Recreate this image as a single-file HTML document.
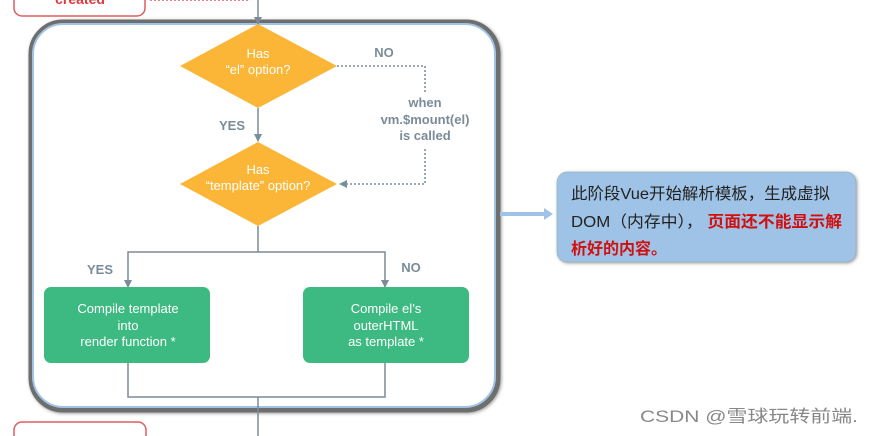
<!DOCTYPE html>
<html><head><meta charset="utf-8"><style>
html,body{margin:0;padding:0;background:#fff;width:872px;height:436px;overflow:hidden}
svg text{font-family:"Liberation Sans","Noto Sans CJK SC",sans-serif}
</style></head><body>
<svg width="872" height="436" viewBox="0 0 872 436" xmlns="http://www.w3.org/2000/svg">
<defs>
<marker id="a" markerWidth="8" markerHeight="8" refX="7" refY="4" orient="auto" markerUnits="userSpaceOnUse"><path d="M0,0 L8,4 L0,8 z" fill="#7a8c99"/></marker>
<filter id="sh" x="-10%" y="-10%" width="120%" height="120%"><feDropShadow dx="1" dy="1" stdDeviation="1.5" flood-color="#555" flood-opacity="0.6"/></filter>
</defs>
<rect x="14" y="-12" width="131" height="28" rx="8" fill="#fff" stroke="#e05a60" stroke-width="1.5"/>
<text x="80" y="4" font-size="14" font-weight="bold" fill="#e0373c" text-anchor="middle">created</text>
<line x1="150" y1="0" x2="250" y2="0" stroke="#e05a60" stroke-width="1.5" stroke-dasharray="2,2"/>
<rect x="31" y="22" width="467" height="388" rx="32" fill="#fff" stroke="#6e6e6e" stroke-width="5" filter="url(#sh)"/>
<rect x="33" y="24" width="462" height="383" rx="30" fill="#fff" stroke="#9fc3e6" stroke-width="2"/>
<line x1="258" y1="0" x2="258" y2="24" stroke="#7a8c99" stroke-width="1.5" marker-end="url(#a)"/>
<polygon points="180,66 258,24 337,66 258,108" fill="#fbb637"/>
<text x="258" y="58" font-size="13" fill="#fff" text-anchor="middle">Has</text>
<text x="258" y="74" font-size="13" fill="#fff" text-anchor="middle">“el” option?</text>
<line x1="258" y1="108" x2="258" y2="141" stroke="#7a8c99" stroke-width="1.5" marker-end="url(#a)"/>
<text x="232" y="130" font-size="13" font-weight="bold" fill="#7a8c99" text-anchor="middle">YES</text>
<text x="384" y="57" font-size="13" font-weight="bold" fill="#7a8c99" text-anchor="middle">NO</text>
<path d="M337,66 H425 V92" fill="none" stroke="#7a8c99" stroke-width="1.5" stroke-dasharray="2,2"/>
<text x="425" y="107" font-size="13" font-weight="bold" fill="#7a8c99" text-anchor="middle">when</text>
<text x="425" y="124" font-size="13" font-weight="bold" fill="#7a8c99" text-anchor="middle">vm.$mount(el)</text>
<text x="425" y="140" font-size="13" font-weight="bold" fill="#7a8c99" text-anchor="middle">is called</text>
<path d="M425,149 V184 H340" fill="none" stroke="#7a8c99" stroke-width="1.5" stroke-dasharray="2,2" marker-end="url(#a)"/>
<polygon points="180,184 258,142 337,184 258,226" fill="#fbb637"/>
<text x="258" y="174" font-size="13" fill="#fff" text-anchor="middle">Has</text>
<text x="258" y="190" font-size="13" fill="#fff" text-anchor="middle">“template” option?</text>
<path d="M258,226 V252 H128 V287" fill="none" stroke="#7a8c99" stroke-width="1.5" marker-end="url(#a)"/>
<path d="M258,252 H385 V287" fill="none" stroke="#7a8c99" stroke-width="1.5" marker-end="url(#a)"/>
<text x="100" y="274" font-size="13" font-weight="bold" fill="#7a8c99" text-anchor="middle">YES</text>
<text x="411" y="272" font-size="13" font-weight="bold" fill="#7a8c99" text-anchor="middle">NO</text>
<rect x="44" y="287" width="166" height="76" rx="7" fill="#3cba82"/>
<text x="128" y="313" font-size="13" fill="#fff" text-anchor="middle">Compile template</text>
<text x="128" y="330" font-size="13" fill="#fff" text-anchor="middle">into</text>
<text x="128" y="346" font-size="13" fill="#fff" text-anchor="middle">render function *</text>
<rect x="303" y="287" width="166" height="76" rx="7" fill="#3cba82"/>
<text x="386" y="313" font-size="13" fill="#fff" text-anchor="middle">Compile el’s</text>
<text x="386" y="330" font-size="13" fill="#fff" text-anchor="middle">outerHTML</text>
<text x="386" y="346" font-size="13" fill="#fff" text-anchor="middle">as template *</text>
<path d="M128,363 V397 H385 V363" fill="none" stroke="#7a8c99" stroke-width="1.5"/>
<line x1="258" y1="397" x2="258" y2="436" stroke="#7a8c99" stroke-width="1.5"/>
<rect x="14" y="422" width="132" height="30" rx="8" fill="#fff" stroke="#e05a60" stroke-width="1.5"/>
<line x1="500" y1="214" x2="546" y2="214" stroke="#9fc3e6" stroke-width="4"/>
<polygon points="544,208 553,214 544,220" fill="#9fc3e6"/>
<rect x="557" y="172" width="299" height="90" rx="10" fill="#9fc3e6" stroke="#8aa" stroke-width="0.5" filter="url(#sh)"/>
<text x="571" y="199" font-size="16" fill="#222" textLength="259" lengthAdjust="spacingAndGlyphs">此阶段Vue开始解析模板，生成虚拟</text>
<text x="571" y="227" font-size="16" fill="#222" textLength="271" lengthAdjust="spacingAndGlyphs">DOM（内存中）， <tspan fill="#d01010" font-weight="bold">页面还不能显示解</tspan></text>
<text x="571" y="254" font-size="16" fill="#d01010" font-weight="bold">析好的内容。</text>
<text x="640" y="422" font-size="17" fill="#888" textLength="218" lengthAdjust="spacingAndGlyphs">CSDN @雪球玩转前端.</text>
</svg>
</body></html>
